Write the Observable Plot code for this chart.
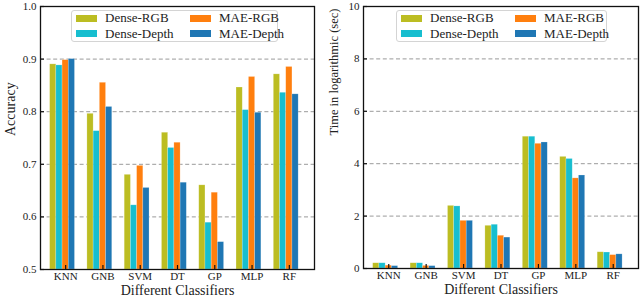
<!DOCTYPE html>
<html><head><meta charset="utf-8">
<script src="https://cdn.jsdelivr.net/npm/d3@7"></script>
<script src="https://cdn.jsdelivr.net/npm/@observablehq/plot@0.6"></script>
<style>
body{margin:0;background:#fff;font-family:"Liberation Serif",serif;}
svg, svg text{font-family:"Liberation Serif",serif !important;}
#wrap{display:flex;width:640px;height:300px;}
.panel{position:relative;width:320px;height:300px;}
.legend{position:absolute;border:1px solid #d4d4d4;border-radius:3px;background:rgba(255,255,255,0.85);box-sizing:border-box;display:grid;grid-template-columns:114px 95px;grid-auto-rows:15.4px;padding:0 0 0 4px;align-content:center;}
.item{display:flex;align-items:center;font-size:13px;color:#222;white-space:nowrap;}
.sw{width:21px;height:7px;margin-right:8px;flex:none;}
</style></head>
<body><div id="wrap"><div class="panel" id="p1"></div><div class="panel" id="p2"></div></div>
<script>
const classifiers = ["KNN","GNB","SVM","DT","GP","MLP","RF"];
const series = ["Dense-RGB","Dense-Depth","MAE-RGB","MAE-Depth"];
const colors = ["#bcbd22","#17becf","#ff7f0e","#1f77b4"];
const accDenseRGB   = [0.890,0.796,0.680,0.760,0.660,0.846,0.871];
const accDenseDepth = [0.888,0.763,0.622,0.731,0.589,0.803,0.836];
const accMaeRGB     = [0.898,0.855,0.697,0.741,0.646,0.866,0.885];
const accMaeDepth   = [0.900,0.809,0.655,0.665,0.552,0.798,0.833];
const timeDenseRGB   = [0.20,0.20,2.39,1.63,5.03,4.26,0.62];
const timeDenseDepth = [0.20,0.20,2.37,1.67,5.03,4.18,0.61];
const timeMaeRGB     = [0.11,0.10,1.82,1.25,4.76,3.44,0.51];
const timeMaeDepth   = [0.09,0.09,1.82,1.18,4.81,3.55,0.54];
const accTicks = [0.5,0.6,0.7,0.8,0.9,1.0];
const timeTicks = [0,2,4,6,8,10];
const legendOrder = ["Dense-RGB","MAE-RGB","Dense-Depth","MAE-Depth"];

const W = 1/6;
const idx = classifiers.map((_, i) => i);
const FONT = '"Liberation Serif", serif';

function rows(arrs){
  const out = [];
  arrs.forEach((arr, k) => arr.forEach((v, i) => out.push({i, k, s: series[k], v})));
  return out;
}

function panel({data, ticks, fmt, ytitle, ytitleSize, margins}){
  const y0 = ticks[0];
  return Plot.plot({
    width: 320, height: 300,
    ...margins,
    style: {fontFamily: FONT, fontSize: "11px", color: "#222", background: "#fff", overflow: "visible"},
    x: {domain: [-0.675, classifiers.length - 1 + 0.675], axis: null},
    y: {domain: [ticks[0], ticks[ticks.length-1]], axis: null},
    color: {domain: series, range: colors},
    marks: [
      Plot.ruleY(ticks.slice(1, -1), {stroke: "#9a9a9a", strokeWidth: 1, strokeDasharray: "4,2.6"}),
      Plot.rectY(data, {
        x1: d => d.i + (d.k - 2.5) * W,
        x2: d => d.i + (d.k - 1.5) * W,
        y1: () => y0, y2: "v", fill: "s",
        stroke: "#fff", strokeOpacity: 0.35, strokeWidth: 0.6
      }),
      Plot.axisX(idx, {anchor: "bottom", tickSize: -4, tickFormat: () => "", label: null, stroke: "#111", strokeWidth: 1.2}),
      Plot.axisX(idx, {anchor: "bottom", tickSize: 0, tickPadding: 3, tickFormat: i => classifiers[i], label: null, fontSize: 11, fontFamily: FONT}),
      Plot.axisY(ticks, {anchor: "left", tickSize: -4, tickFormat: () => "", label: null, stroke: "#111", strokeWidth: 1.2}),
      Plot.axisY(ticks, {anchor: "left", tickSize: 0, tickPadding: 4, tickFormat: fmt, label: null, fontSize: 11, fontFamily: FONT}),
      Plot.frame({stroke: "#111", strokeWidth: 1.3}),
      Plot.text(["Different Classifiers"], {frameAnchor: "bottom", dy: 25, fontSize: 14, fill: "#222", fontFamily: FONT}),
      Plot.text([ytitle], {frameAnchor: "left", rotate: -90, dx: -30, dy: -2, fontSize: ytitleSize, fill: "#222", fontFamily: FONT})
    ]
  });
}

function legend(host, style){
  const lg = document.createElement("div");
  lg.className = "legend";
  Object.assign(lg.style, style);
  legendOrder.forEach(name => {
    const it = document.createElement("div");
    it.className = "item";
    const sw = document.createElement("span");
    sw.className = "sw";
    sw.style.background = colors[series.indexOf(name)];
    it.appendChild(sw);
    it.appendChild(document.createTextNode(name));
    lg.appendChild(it);
  });
  host.appendChild(lg);
}

const p1 = document.getElementById("p1");
p1.appendChild(panel({
  data: rows([accDenseRGB, accDenseDepth, accMaeRGB, accMaeDepth]),
  ticks: accTicks, fmt: d3.format(".1f"), ytitle: "Accuracy", ytitleSize: 14,
  margins: {marginLeft: 40, marginRight: 6, marginTop: 6, marginBottom: 31}
}));
legend(p1, {left: "71px", top: "10px", width: "207px", height: "32px"});

const p2 = document.getElementById("p2");
p2.appendChild(panel({
  data: rows([timeDenseRGB, timeDenseDepth, timeMaeRGB, timeMaeDepth]),
  ticks: timeTicks, fmt: d3.format("d"), ytitle: "Time in logarithmic (sec)", ytitleSize: 12.5,
  margins: {marginLeft: 43, marginRight: 2, marginTop: 6, marginBottom: 32}
}));
legend(p2, {left: "76px", top: "10px", width: "211px", height: "32px"});
</script></body></html>
